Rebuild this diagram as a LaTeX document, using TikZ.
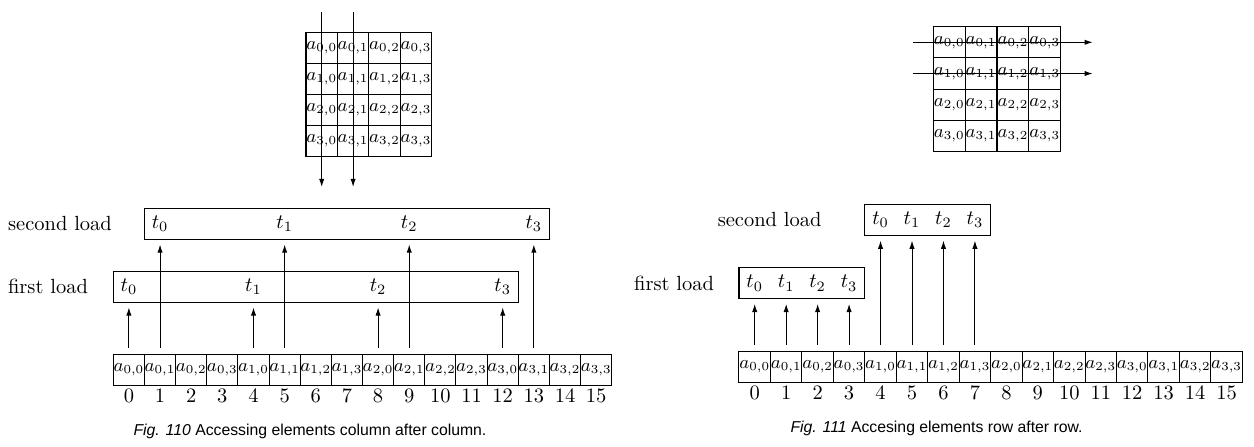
\documentclass[tikz,border=0pt]{standalone}
\usepackage{fontspec}
\newfontfamily\capfont{Liberation Sans}
\usepackage{tikz}
\usetikzlibrary{arrows.meta}
\usetikzlibrary{positioning}

\newcommand{\aij}[3][0pt]{\makebox[0pt]{\raisebox{#1}{$a_{#2,#3}$}}}

\tikzset{
  cell/.style={draw, inner sep=0pt, minimum width=#1, minimum height=15.3pt,
    font=\fontsize{9}{11}\selectfont},
  cell/.default=15.2pt,
  loadbox/.style={draw, inner sep=0pt, minimum height=15.3pt},
  idx/.style={inner sep=1pt},
  lbl/.style={inner sep=0pt},
  load/.style={shorten <=2.9pt, shorten >=2.2pt},
  figcap/.style={font=\capfont\fontsize{7.7}{9}\selectfont}
}

\begin{document}
\begin{tikzpicture}[x=0.488pt, y=-0.488pt, line width=0.5pt,
    >={Latex[length=4pt,width=2.6pt]}]
  \useasboundingbox (0,0) rectangle (1254,447);

  % column after column
  \begin{scope}
    \foreach \i in {0,...,3}
      \foreach \j in {0,...,3}
        \node[cell=15.32pt] (Lm\i\j) at ({321.7+31.4*\j},{47.9+31.1*\i}) {\aij{\i}{\j}};
    \foreach \j in {0,1} {
      \coordinate (Lin\j) at ({321.7+31.4*\j},12);
      \coordinate (Lout\j) at ({321.7+31.4*\j},187);
      \draw[->] (Lin\j) -- (Lout\j);
    }

    \foreach \r in {0,...,3}
      \foreach \c in {0,...,3} {
        \pgfmathtruncatemacro\pos{4*\r+\c}
        \node[cell] (La\r\c) at ({128.9+31.15*\pos},370) {\aij[-1pt]{\r}{\c}};
        \node[idx, below=0pt of La\r\c] (Li\pos) {\pos};
      }

    \node[loadbox, minimum width=197.6pt] (Lfirst) at (315.8,286.7) {};
    \node[loadbox, minimum width=197.6pt] (Lsecond) at (346.9,223.8) {};
    \node[lbl, left=11.9pt of Lfirst] (Lfirstlbl) {first load};
    \node[lbl, left=15.4pt of Lsecond] (Lsecondlbl) {second load};

    \foreach \r in {0,...,3} {
      \node (Lf\r) at (La\r0 |- Lfirst) {$t_\r$};
      \node (Ls\r) at (La\r1 |- Lsecond) {$t_\r$};
      \draw[->, load] (La\r0) -- (La\r0 |- Lfirst.south);
      \draw[->, load] (La\r1) -- (La\r1 |- Lsecond.south);
    }

    \node[figcap] (Lcap) at (310,431.7) {\textit{Fig. 110} Accessing elements column after column.};
  \end{scope}

  % row after row
  \begin{scope}
    \foreach \i in {0,...,3}
      \foreach \j in {0,...,3}
        \node[cell=15.54pt] (Rm\i\j) at ({949.2+31.85*\j},{42.3+31.25*\i}) {\aij{\i}{\j}};
    \foreach \i in {0,1} {
      \coordinate (Rin\i) at (912.7,{42.3+31.25*\i});
      \coordinate (Rout\i) at (1092.7,{42.3+31.25*\i});
      \draw[->] (Rin\i) -- (Rout\i);
    }

    \foreach \r in {0,...,3}
      \foreach \c in {0,...,3} {
        \pgfmathtruncatemacro\pos{4*\r+\c}
        \node[cell=15.35pt] (Ra\r\c) at ({754.7+31.46*\pos},366.9) {\aij[-1pt]{\r}{\c}};
        \node[idx, below=0pt of Ra\r\c] (Ri\pos) {\pos};
      }

    \node[loadbox, minimum width=61.4pt] (Rfirst) at (801.9,283.2) {};
    \node[loadbox, minimum width=61.4pt] (Rsecond) at (927.8,219.9) {};
    \node[lbl, left=11.7pt of Rfirst] (Rfirstlbl) {first load};
    \node[lbl, left=20.7pt of Rsecond] (Rsecondlbl) {second load};

    \foreach \c in {0,...,3} {
      \node (Rf\c) at (Ra0\c |- Rfirst) {$t_\c$};
      \node (Rs\c) at (Ra1\c |- Rsecond) {$t_\c$};
      \draw[->, load] (Ra0\c) -- (Ra0\c |- Rfirst.south);
      \draw[->, load] (Ra1\c) -- (Ra1\c |- Rsecond.south);
    }

    \node[figcap] (Rcap) at (936.5,428.3) {\textit{Fig. 111} Accesing elements row after row.};
  \end{scope}
\end{tikzpicture}
\end{document}
